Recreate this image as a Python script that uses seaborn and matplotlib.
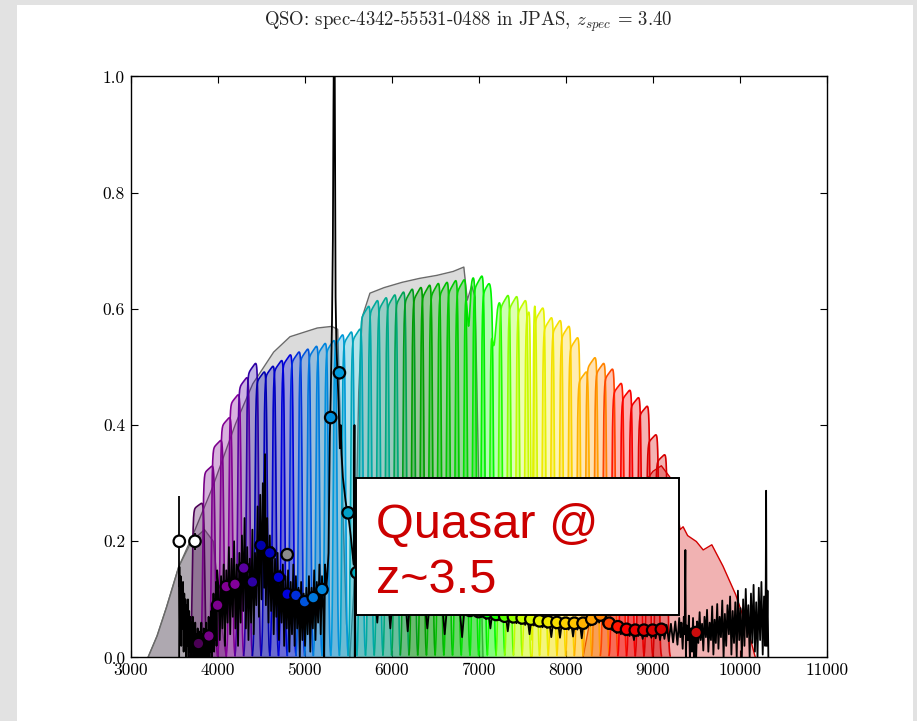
import numpy as np
import pandas as pd
import matplotlib
matplotlib.use("Agg")
import matplotlib.pyplot as plt
from matplotlib.patches import Rectangle
from matplotlib.ticker import FormatStrFormatter
import seaborn as sns

# ---------------------------------------------------------------------------
# J-PAS narrow-band filters: central wavelength (A), peak transmission,
# synthetic photometry of the quasar and its error
# ---------------------------------------------------------------------------
nb_center = [3780, 3900, 4000, 4100, 4200, 4300, 4400, 4500, 4600, 4700,
             4800, 4900, 5000, 5100, 5200, 5300, 5400, 5500, 5600, 5700,
             5800, 5900, 6000, 6100, 6200, 6300, 6400, 6500, 6600, 6700,
             6800, 6900, 7000, 7100, 7200, 7300, 7400, 7500, 7600, 7700,
             7800, 7900, 8000, 8100, 8200, 8300, 8400, 8500, 8600, 8700,
             8800, 8900, 9000, 9100]
nb_peak = [0.27, 0.335, 0.38, 0.42, 0.46, 0.49, 0.515, 0.50, 0.51, 0.52,
           0.53, 0.535, 0.54, 0.545, 0.55, 0.555, 0.565, 0.57, 0.575, 0.615,
           0.625, 0.63, 0.635, 0.64, 0.645, 0.648, 0.652, 0.655, 0.657, 0.66,
           0.662, 0.665, 0.668, 0.66, 0.622, 0.634, 0.632, 0.625, 0.62, 0.612,
           0.595, 0.59, 0.58, 0.56, 0.50, 0.525, 0.515, 0.505, 0.48, 0.468,
           0.455, 0.44, 0.39, 0.355]
nb_flux = [0.024, 0.037, 0.090, 0.122, 0.126, 0.154, 0.130, 0.193, 0.180, 0.138,
           0.109, 0.107, 0.096, 0.103, 0.117, 0.413, 0.490, 0.249, 0.146, 0.125,
           0.118, 0.110, 0.105, 0.100, 0.097, 0.094, 0.090, 0.088, 0.086, 0.085,
           0.083, 0.081, 0.079, 0.077, 0.074, 0.071, 0.070, 0.068, 0.066, 0.063,
           0.0615, 0.0603, 0.059, 0.059, 0.059, 0.066, 0.073, 0.059, 0.053, 0.0485,
           0.047, 0.047, 0.047, 0.0485]
nb_err = [0.010, 0.010, 0.008, 0.008, 0.008, 0.008, 0.008, 0.008, 0.008, 0.008,
          0.006, 0.006, 0.006, 0.006, 0.006, 0.008, 0.008, 0.006, 0.005, 0.005,
          0.005, 0.005, 0.005, 0.005, 0.005, 0.005, 0.005, 0.005, 0.005, 0.005,
          0.005, 0.005, 0.005, 0.005, 0.005, 0.005, 0.005, 0.005, 0.005, 0.005,
          0.005, 0.005, 0.005, 0.005, 0.005, 0.005, 0.005, 0.005, 0.005, 0.005,
          0.005, 0.005, 0.005, 0.005]

# Broad-band photometry
bb_name = ["uJAVA", "uJPAS", "gSDSS", "rSDSS", "J1007"]
bb_center = [3560, 3740, 4800, 6250, 9500]
bb_flux = [0.200, 0.200, 0.177, 0.092, 0.043]
bb_err = [0.078, 0.015, 0.006, 0.004, 0.006]

# Broad-band transmission curves (wavelength knots / transmission)
uj_wave = [3200, 3300, 3400, 3550, 3700, 3850, 3950, 4050, 4100]
uj_trans = [0.0, 0.035, 0.08, 0.155, 0.20, 0.22, 0.20, 0.05, 0.0]
g_wave = [3200, 3300, 3400, 3550, 3700, 3930, 4200, 4400, 4640, 4830, 5000,
          5140, 5310, 5380, 5430, 5480, 5520]
g_trans = [0.0, 0.035, 0.08, 0.155, 0.205, 0.288, 0.40, 0.47, 0.525, 0.552, 0.56,
           0.567, 0.57, 0.565, 0.30, 0.06, 0.0]
r_wave = [5520, 5580, 5620, 5660, 5750, 5900, 6100, 6300, 6500, 6700, 6830,
          6870, 6920, 6960, 7000, 7050]
r_trans = [0.0, 0.15, 0.45, 0.585, 0.627, 0.636, 0.645, 0.652, 0.657, 0.664, 0.672,
           0.615, 0.64, 0.62, 0.30, 0.0]
z_wave = [8200, 8300, 8500, 8800, 9000, 9100, 9200, 9270, 9315, 9350, 9400,
          9500, 9580, 9680, 9800, 9950, 10100, 10180]
z_trans = [0.0, 0.08, 0.20, 0.28, 0.32, 0.33, 0.31, 0.27, 0.22, 0.225, 0.21,
           0.2, 0.185, 0.194, 0.16, 0.11, 0.045, 0.0]

# SDSS spectrum spec-4342-55531-0488 (wavelength A, flux)
spec_lyman = [(3558, 0.0), (3561, 0.156), (3568, 0.04), (3575, 0.14), (3582, 0.02),
              (3589, 0.12), (3596, 0.05), (3603, 0.13), (3610, 0.01), (3617, 0.11),
              (3624, 0.03), (3631, 0.10), (3638, 0.0), (3645, 0.09), (3652, 0.02),
              (3659, 0.10), (3666, 0.0), (3673, 0.08), (3680, 0.01), (3687, 0.07),
              (3694, 0.0), (3701, 0.06), (3708, 0.01), (3715, 0.07), (3722, 0.0),
              (3729, 0.05), (3736, 0.0), (3743, 0.06), (3750, 0.0), (3757, 0.04),
              (3764, 0.0), (3771, 0.05), (3778, 0.0), (3785, 0.03), (3792, 0.0),
              (3799, 0.045), (3806, 0.0), (3813, 0.06), (3820, 0.0), (3827, 0.04),
              (3834, 0.0), (3841, 0.05), (3848, 0.0), (3855, 0.035), (3862, 0.0),
              (3869, 0.06), (3876, 0.0), (3883, 0.04), (3890, 0.0), (3897, 0.07),
              (3904, 0.0), (3911, 0.05), (3918, 0.01), (3925, 0.08), (3932, 0.0),
              (3939, 0.09), (3946, 0.02), (3953, 0.11), (3960, 0.01), (3967, 0.10),
              (3974, 0.03), (3981, 0.13), (3988, 0.02), (3995, 0.15)]
spec_forest = [(4010, 0.12), (4025, 0.03), (4040, 0.14), (4055, 0.05), (4070, 0.16),
               (4085, 0.02), (4100, 0.15), (4115, 0.06), (4130, 0.19), (4145, 0.04),
               (4160, 0.17), (4175, 0.07), (4190, 0.20), (4205, 0.05), (4220, 0.16),
               (4235, 0.02), (4250, 0.18), (4265, 0.06), (4280, 0.21), (4295, 0.08),
               (4310, 0.24), (4325, 0.05), (4340, 0.19), (4355, 0.03), (4370, 0.17),
               (4385, 0.06), (4400, 0.22), (4415, 0.04), (4430, 0.18), (4445, 0.09),
               (4460, 0.26), (4475, 0.07), (4490, 0.28), (4505, 0.10), (4520, 0.30),
               (4535, 0.12), (4545, 0.35), (4555, 0.09), (4570, 0.24), (4585, 0.06),
               (4600, 0.21), (4615, 0.08), (4630, 0.19), (4645, 0.04), (4660, 0.17),
               (4675, 0.07), (4690, 0.18), (4705, 0.03), (4720, 0.15), (4735, 0.06),
               (4750, 0.16), (4765, 0.02), (4780, 0.14), (4795, 0.05), (4810, 0.15),
               (4825, 0.01), (4840, 0.13), (4855, 0.04), (4870, 0.16), (4885, 0.02),
               (4900, 0.14), (4915, 0.05), (4930, 0.12), (4945, 0.0), (4960, 0.13),
               (4975, 0.03), (4990, 0.11), (5005, 0.02), (5020, 0.12), (5035, 0.04),
               (5050, 0.14), (5065, 0.01), (5080, 0.12), (5095, 0.05), (5110, 0.15),
               (5125, 0.03), (5140, 0.13), (5155, 0.06), (5170, 0.16), (5185, 0.04),
               (5200, 0.14), (5215, 0.08), (5225, 0.0), (5235, 0.16), (5250, 0.12)]
spec_lya = [(5260, 0.14), (5275, 0.18), (5290, 0.38), (5300, 0.45), (5315, 0.58),
            (5325, 0.72), (5332, 0.95), (5338, 1.08), (5344, 1.10), (5350, 0.85),
            (5356, 0.62), (5365, 0.54), (5375, 0.50), (5390, 0.44), (5405, 0.36),
            (5415, 0.40), (5425, 0.35), (5440, 0.31), (5455, 0.29), (5470, 0.27),
            (5490, 0.25), (5510, 0.235), (5530, 0.21), (5550, 0.18), (5565, 0.16),
            (5573, 0.40), (5577, 0.0), (5582, 0.16), (5600, 0.145)]
spec_red1 = [(5610, 0.15), (5635, 0.13), (5660, 0.135), (5685, 0.12), (5710, 0.125),
             (5735, 0.11), (5760, 0.118), (5785, 0.10), (5810, 0.112), (5835, 0.06),
             (5860, 0.108), (5885, 0.098), (5910, 0.105), (5935, 0.094), (5960, 0.10),
             (5985, 0.05), (6010, 0.098), (6035, 0.09), (6060, 0.097), (6085, 0.088),
             (6110, 0.095), (6135, 0.087), (6160, 0.093), (6185, 0.045), (6210, 0.092),
             (6235, 0.085), (6260, 0.09), (6285, 0.084), (6300, 0.16), (6310, 0.083),
             (6335, 0.089), (6360, 0.082), (6385, 0.088), (6410, 0.05), (6435, 0.087),
             (6460, 0.081), (6485, 0.086), (6510, 0.08), (6535, 0.085), (6560, 0.079),
             (6585, 0.084), (6610, 0.04), (6635, 0.083), (6660, 0.078), (6685, 0.082),
             (6710, 0.077), (6735, 0.081), (6760, 0.076), (6785, 0.08), (6810, 0.035),
             (6835, 0.079), (6860, 0.075), (6885, 0.078), (6910, 0.074), (6935, 0.077),
             (6960, 0.073), (6985, 0.076)]
spec_red2 = [(7010, 0.084), (7035, 0.07), (7060, 0.082), (7085, 0.066), (7110, 0.081),
             (7135, 0.05), (7160, 0.08), (7185, 0.066), (7210, 0.078), (7235, 0.064),
             (7260, 0.077), (7285, 0.062), (7310, 0.076), (7335, 0.045), (7360, 0.075),
             (7385, 0.06), (7410, 0.074), (7435, 0.059), (7460, 0.073), (7485, 0.058),
             (7510, 0.072), (7535, 0.056), (7560, 0.071), (7585, 0.04), (7610, 0.07),
             (7635, 0.055), (7660, 0.069), (7685, 0.054), (7710, 0.068), (7735, 0.052),
             (7760, 0.067), (7785, 0.051), (7810, 0.066), (7835, 0.035), (7860, 0.065),
             (7885, 0.05), (7910, 0.065), (7935, 0.034), (7960, 0.064), (7985, 0.049),
             (8010, 0.064), (8035, 0.048), (8060, 0.064), (8085, 0.036), (8110, 0.064),
             (8135, 0.048), (8160, 0.064), (8185, 0.033), (8210, 0.065), (8235, 0.05),
             (8260, 0.068), (8285, 0.055), (8310, 0.071), (8335, 0.058), (8360, 0.074),
             (8385, 0.06), (8410, 0.073), (8435, 0.056), (8460, 0.067), (8485, 0.05),
             (8510, 0.063), (8535, 0.047), (8560, 0.058), (8585, 0.042), (8610, 0.056),
             (8635, 0.04), (8660, 0.054), (8685, 0.038), (8710, 0.053), (8735, 0.037),
             (8760, 0.052), (8785, 0.03), (8810, 0.053), (8835, 0.037), (8860, 0.052),
             (8885, 0.032), (8910, 0.053), (8935, 0.036), (8960, 0.053), (8985, 0.034),
             (9010, 0.054), (9035, 0.033), (9060, 0.055), (9085, 0.03), (9110, 0.056),
             (9135, 0.032), (9160, 0.056), (9185, 0.028), (9210, 0.058), (9235, 0.026),
             (9260, 0.062), (9285, 0.022)]
spec_red3 = [(9305, 0.068), (9318, 0.035), (9330, 0.06), (9345, 0.015), (9358, 0.07),
             (9368, 0.04), (9376, 0.185), (9382, 0.0), (9392, 0.055), (9405, 0.03),
             (9416, 0.072), (9428, 0.0), (9440, 0.05), (9452, 0.01), (9464, 0.068),
             (9476, 0.0), (9488, 0.045), (9500, 0.0), (9512, 0.062), (9525, 0.025),
             (9540, 0.078), (9552, 0.03), (9568, 0.058), (9582, 0.012), (9596, 0.07),
             (9612, 0.035), (9625, 0.082), (9640, 0.01), (9655, 0.06), (9670, 0.03),
             (9684, 0.088), (9698, 0.005), (9712, 0.065), (9726, 0.025), (9742, 0.092),
             (9756, 0.015), (9770, 0.07), (9785, 0.035), (9800, 0.098), (9815, 0.0),
             (9830, 0.075), (9845, 0.02), (9860, 0.09), (9876, 0.04), (9890, 0.105),
             (9905, 0.005), (9920, 0.08), (9935, 0.025), (9950, 0.095), (9966, 0.0),
             (9980, 0.115), (9995, 0.03), (10010, 0.085), (10025, 0.0), (10040, 0.10),
             (10055, 0.02), (10070, 0.118), (10085, 0.035), (10100, 0.09), (10115, 0.0),
             (10130, 0.11), (10145, 0.025), (10160, 0.125), (10175, 0.01), (10190, 0.095),
             (10205, 0.0), (10220, 0.12), (10235, 0.03), (10250, 0.13), (10265, 0.005),
             (10280, 0.105), (10292, 0.02), (10300, 0.13), (10304, 0.287), (10310, 0.02),
             (10320, 0.115), (10330, 0.0)]

# ---------------------------------------------------------------------------
sns.set_style("ticks")
plt.rcParams.update({
    "font.family": "cmr10",
    "mathtext.fontset": "cm",
    "axes.formatter.use_mathtext": True,
    "axes.unicode_minus": False,
})

cmap = plt.get_cmap("nipy_spectral")
nb_name = [f"J{c // 10:04d}" for c in nb_center]
nb_color = [cmap(0.035 + 0.0168 * i) for i in range(len(nb_center))]
bb_color = ["white", "white", "#8c8c8c", "#8c8c8c", cmap(0.95)]

fig = plt.figure(figsize=(9.17, 7.21), dpi=100, facecolor="#e2e2e2")
fig.patches.append(Rectangle((17 / 917, 0), (913 - 17) / 917, 1 - 5 / 721,
                             transform=fig.transFigure, facecolor="white",
                             edgecolor="none", zorder=-1))
ax = fig.add_axes([0.1424, 0.0881, 0.7591, 0.8058])
ax.set_facecolor("white")

lam = np.linspace(3000, 11000, 8001)

# telluric absorption bands imprinted on the filter curves
atmos = (1 - 0.11 * np.exp(-((lam - 6885) / 22) ** 2)
         - 0.10 * np.exp(-((lam - 7175) / 30) ** 2)
         - 0.95 * np.exp(-((lam - 7612) / 14) ** 2))


def broad(wave, trans):
    sel = (lam >= wave[0]) & (lam <= wave[-1])
    return lam[sel], np.interp(lam[sel], wave, trans)


def narrow(center, peak, fwhm=145.0, soft=6.0):
    sel = np.abs(lam - center) <= fwhm / 2 + 30
    x = lam[sel]
    lo, hi = center - fwhm / 2, center + fwhm / 2
    edge = 1 / (1 + np.exp(-(x - lo) / soft)) / (1 + np.exp((x - hi) / soft))
    tilt = 0.94 + 0.06 * np.clip((x - lo) / (hi - lo), 0, 1)
    return x, peak * edge * tilt * atmos[sel]


# broad-band filters
for wave, trans, face, fa, line in [
        (g_wave, g_trans, "#999999", 0.35, "#6a6a6a"),
        (uj_wave, uj_trans, "#5a4a60", 0.35, "#6a6a6a"),
        (r_wave, r_trans, "#999999", 0.35, "#6a6a6a"),
        (z_wave, z_trans, cmap(0.93), 0.30, cmap(0.93))]:
    x, t = broad(wave, trans)
    ax.fill_between(x, 0, t, color=face, alpha=fa, lw=0, zorder=1)
    ax.plot(x, t, color=line, lw=1.0, zorder=1.1)

# narrow-band filters
for c, p, col in zip(nb_center, nb_peak, nb_color):
    x, t = narrow(c, p)
    ax.fill_between(x, 0, t, color=col, alpha=0.30, lw=0, zorder=2)
    ax.plot(x, t, color=col, lw=1.2, zorder=2.1)

# spectrum
spec = spec_lyman + spec_forest + spec_lya + spec_red1 + spec_red2 + spec_red3
spec_df = pd.DataFrame(spec, columns=["wave", "flux"])
sns.lineplot(data=spec_df, x="wave", y="flux", ax=ax, color="black", lw=1.3,
             estimator=None, sort=False, zorder=5)

# photometry
phot = pd.DataFrame({
    "name": nb_name + bb_name,
    "wave": nb_center + bb_center,
    "flux": nb_flux + bb_flux,
    "err": nb_err + bb_err,
})
palette = dict(zip(nb_name + bb_name, nb_color + bb_color))
ax.errorbar(phot["wave"], phot["flux"], yerr=phot["err"], fmt="none",
            ecolor="black", elinewidth=1.3, capsize=0, zorder=6)
sns.scatterplot(data=phot, x="wave", y="flux", hue="name", palette=palette,
                s=68, edgecolor="black", linewidth=1.6, legend=False, ax=ax,
                zorder=7)

ax.set_xlim(3000, 11000)
ax.set_ylim(0, 1)
ax.set_xticks(range(3000, 11001, 1000))
ax.set_yticks([0.0, 0.2, 0.4, 0.6, 0.8, 1.0])
ax.xaxis.set_major_formatter(FormatStrFormatter("%d"))
ax.yaxis.set_major_formatter(FormatStrFormatter("%.1f"))
ax.set_xlabel("")
ax.set_ylabel("")
ax.tick_params(direction="in", top=True, right=True, length=5, width=0.8,
               labelsize=12.5, colors="black", pad=4)
for s in ax.spines.values():
    s.set_color("black")
    s.set_linewidth(1.0)

fig.text(0.511, 0.9695, "QSO: spec-4342-55531-0488 in JPAS, $z_{spec}$ = 3.40",
         ha="center", va="center", fontsize=13.5)

# annotation box
fig.patches.append(Rectangle((356 / 917, 1 - 615 / 721), (679 - 356) / 917,
                             (615 - 478) / 721, transform=fig.transFigure,
                             facecolor="white", edgecolor="black", lw=1.4,
                             zorder=10))
fig.text(376 / 917, 1 - 538 / 721, "Quasar @", family="Liberation Sans",
         fontsize=35, color="#cc0000", va="baseline", ha="left", zorder=11)
fig.text(376 / 917, 1 - 593 / 721, "z~3.5", family="Liberation Sans",
         fontsize=35, color="#cc0000", va="baseline", ha="left", zorder=11)

fig.savefig("out.png", dpi=100, facecolor=fig.get_facecolor())
